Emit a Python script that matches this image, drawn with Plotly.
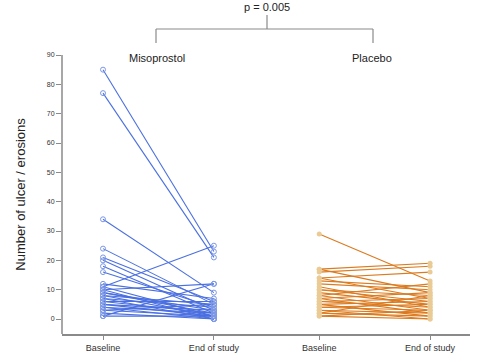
import plotly.graph_objects as go

# ---- data ----
groups = ["Misoprostol", "Placebo"]
timepoints = ["Baseline", "End of study"]
tick_positions = [1, 2, 2.95, 3.95]
tick_labels = ["Baseline", "End of study", "Baseline", "End of study"]

miso_baseline = [85, 77, 34, 24, 21, 20, 18, 16, 12, 11, 11, 10, 10, 9, 9, 8, 8, 7, 7, 6, 6, 5, 5, 4, 4, 3, 3, 2, 1, 1]
miso_end      = [23, 21, 9, 5, 6, 3, 2, 4, 7, 25, 1, 12, 0, 3, 2, 5, 1, 4, 0, 2, 6, 1, 3, 0, 2, 1, 5, 0, 12, 1]

plac_baseline = [29, 17, 16, 17, 14, 14, 13, 12, 11, 10, 10, 9, 8, 8, 7, 7, 6, 6, 5, 5, 4, 4, 3, 3, 2, 2, 1, 1]
plac_end      = [13, 19, 18, 9, 16, 7, 11, 10, 4, 8, 6, 5, 12, 3, 9, 2, 7, 4, 1, 6, 3, 5, 0, 2, 1, 8, 3, 0]

y_ticks = [0, 10, 20, 30, 40, 50, 60, 70, 80, 90]


def paired(xs, b, e):
    X, Y = [], []
    for vb, ve in zip(b, e):
        X += [xs[0], xs[1], None]
        Y += [vb, ve, None]
    return X, Y


fig = go.Figure()

mx, my = paired(tick_positions[0:2], miso_baseline, miso_end)
fig.add_trace(go.Scatter(
    x=mx, y=my, mode="lines+markers", name=groups[0],
    line=dict(color="#4A6FE0", width=1.1),
    marker=dict(symbol="circle-open", size=5, color="#7C98E6", line=dict(width=1)),
    showlegend=False, connectgaps=False,
))

px_, py_ = paired(tick_positions[2:4], plac_baseline, plac_end)
fig.add_trace(go.Scatter(
    x=px_, y=py_, mode="lines+markers", name=groups[1],
    line=dict(color="#DB7A1E", width=1.1),
    marker=dict(symbol="circle", size=5, color="#EBCB95", line=dict(width=0)),
    showlegend=False, connectgaps=False,
))

W, H = 480, 363
L, R, T, B = 62, 10, 55, 29
pw, ph = W - L - R, H - T - B


def pxx(x):
    return (x - L) / pw


def pyy(y):
    return (H - B - y) / ph


grey = "#8a8a8a"
shapes = [
    dict(type="line", xref="paper", yref="paper", x0=pxx(267), x1=pxx(267), y0=pyy(15), y1=pyy(29), line=dict(color=grey, width=1.2)),
    dict(type="line", xref="paper", yref="paper", x0=pxx(156), x1=pxx(373), y0=pyy(29), y1=pyy(29), line=dict(color=grey, width=1.2)),
    dict(type="line", xref="paper", yref="paper", x0=pxx(156), x1=pxx(156), y0=pyy(29), y1=pyy(43), line=dict(color=grey, width=1.2)),
    dict(type="line", xref="paper", yref="paper", x0=pxx(373), x1=pxx(373), y0=pyy(29), y1=pyy(43), line=dict(color=grey, width=1.2)),
]

ann_font = dict(size=11, color="#222")
annotations = [
    dict(text="p = 0.005", xref="paper", yref="paper", x=pxx(267), y=pyy(7), showarrow=False,
         xanchor="center", yanchor="middle", font=ann_font),
    dict(text=groups[0], xref="paper", yref="paper", x=pxx(157), y=pyy(58), showarrow=False,
         xanchor="center", yanchor="middle", font=ann_font),
    dict(text=groups[1], xref="paper", yref="paper", x=pxx(372), y=pyy(58), showarrow=False,
         xanchor="center", yanchor="middle", font=ann_font),
]

fig.update_layout(
    width=W, height=H,
    margin=dict(l=L, r=R, t=T, b=B),
    paper_bgcolor="white", plot_bgcolor="white",
    font=dict(family="Liberation Sans, Arial, sans-serif", color="#333"),
    shapes=shapes, annotations=annotations,
    xaxis=dict(
        range=[0.63, 4.31], tickmode="array", tickvals=tick_positions, ticktext=tick_labels,
        showgrid=False, zeroline=False, showline=True, linecolor=grey, linewidth=1.5,
        ticks="outside", ticklen=4, tickcolor=grey, tickfont=dict(size=9, color="#333"),
    ),
    yaxis=dict(
        range=[-5.1, 90], tickmode="array", tickvals=y_ticks,
        showgrid=False, zeroline=False, showline=False,
        ticks="outside", ticklen=5, tickcolor=grey, tickfont=dict(size=7, color="#333"),
        title=dict(text="Number of ulcer / erosions", font=dict(size=13, color="#222"), standoff=18),
    ),
)

fig.add_shape(type="line", xref="paper", yref="y", x0=0, x1=0, y0=-5.1, y1=90,
              line=dict(color=grey, width=1.5))

fig.write_html("out.html", config={"displayModeBar": False},
               post_script="document.body.style.margin='0';")
